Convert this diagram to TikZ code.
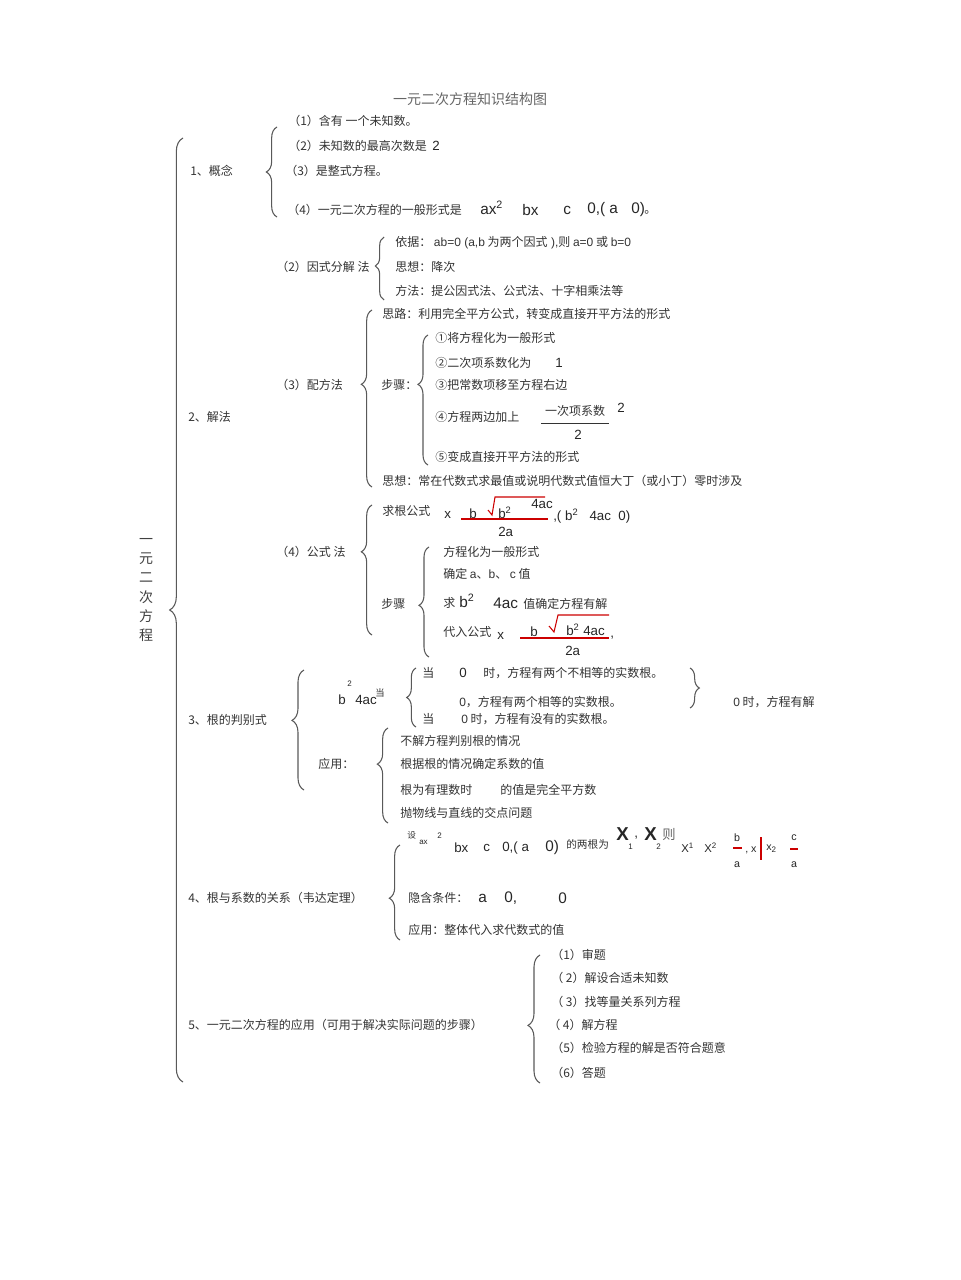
\documentclass[tikz,border=0pt]{standalone}
\usepackage{fontspec}
\setmainfont{Noto Sans CJK SC}
\newfontfamily\arial{Liberation Sans}
\usetikzlibrary{decorations.pathreplacing}

\tikzset{
  txt/.style={anchor=west, inner sep=0pt, text=black!80, font=\fontsize{9}{10}\selectfont},
  fml/.style={anchor=west, inner sep=0pt, text=black!85, font=\arial\fontsize{10}{11}\selectfont},
  big fml/.style={fml, font=\arial\fontsize{11.5}{12}\selectfont},
  tiny fml/.style={fml, font=\arial\fontsize{6}{7}\selectfont},
  brc/.style={decorate, draw=black!65, line width=0.8pt, decoration={brace, amplitude=#1}},
  brc/.default=7pt,
  red rule/.style={draw=red!80!black, line width=0.8pt},
}

\begin{document}
\begin{tikzpicture}[x=0.75pt, y=-0.75pt]
\useasboundingbox (0,0) rectangle (960,1280);

% title and root
\node[text=black!60, font=\fontsize{10.5}{12}\selectfont] (title) at (470,99) {一元二次方程知识结构图};
\node[align=center, text=black!75, font=\fontsize{10.5}{14.5}\selectfont] (root) at (146,590) {一\\元\\二\\次\\方\\程};
\draw[brc=10pt] (183,1082) -- (183,138);

% 1 concept
\node[txt] (gn) at (190,171) {1、概念};
\draw[brc=8pt] (277,217) -- (277,127);
\node[txt] (c1) at (288,121) {（1）含有 一个未知数。};
\node[txt] (c2) at (288,146) {（2）未知数的最高次数是};
\node[fml] (c2n) at (432,146) {2};
\node[txt] (c3) at (285,171) {（3）是整式方程。};
\node[txt] (c4) at (287,210) {（4）一元二次方程的一般形式是};
\node[big fml] (gf1) at (480,208) {ax\textsuperscript{2}};
\node[big fml] (gf2) at (522,210) {bx};
\node[big fml] (gf3) at (563,210) {c};
\node[big fml] (gf4) at (587,210) {0,( a};
\node[big fml] (gf5) at (631,210) {0)};
\node[txt] (gf6) at (644,212) {。};

% 2 solving
\node[txt] (jf) at (188,417) {2、解法};

% factoring
\node[txt] (yf) at (276,267) {（2）因式分解 法};
\draw[brc=6.5pt, decoration={aspect=0.54}] (384,300) -- (384,237);
\node[txt] (y1) at (395,243) {依据：\ {\arial ab=0 (a,b}\ 为两个因式{\arial\ ),}则 {\arial a=0} 或 {\arial b=0}};
\node[txt] (y2) at (395,267) {思想：降次};
\node[txt] (y3) at (395,291) {方法：提公因式法、公式法、十字相乘法等};

% completing the square
\node[txt] (pf) at (276,385) {（3）配方法};
\draw[brc=8pt, decoration={aspect=0.58}] (372,487) -- (372,310);
\node[txt] (p0) at (382,314) {思路：利用完全平方公式，转变成直接开平方法的形式};
\node[txt] (pb) at (381,385) {步骤：};
\draw[brc=7.5pt, decoration={aspect=0.62}] (428,465) -- (428,335);
\node[txt] (p1) at (435,338) {①将方程化为一般形式};
\node[txt] (p2) at (435,363) {②二次项系数化为};
\node[fml] (p2n) at (555,363) {1};
\node[txt] (p3) at (435,385) {③把常数项移至方程右边};
\node[txt] (p4) at (435,417) {④方程两边加上};
\node[txt, anchor=center] (p4n) at (575,411) {一次项系数};
\draw[black!80, line width=0.6pt] (541,423) -- (609,423);
\node[fml, anchor=center] (p4d) at (578,435) {2};
\node[fml] (p4e) at (617,408) {2};
\node[txt] (p5) at (435,457) {⑤变成直接开平方法的形式};
\node[txt] (p6) at (382,481) {思想：常在代数式求最值或说明代数式值恒大丁（或小丁）零时涉及};

% quadratic formula
\node[txt] (qf) at (276,552) {（4）公式 法};
\draw[brc=8pt, decoration={aspect=0.64}] (372,635) -- (372,505);
\node[txt] (q0) at (382,511) {求根公式};
\node[fml] (qx) at (444,515) {x};
\node[fml] (qb) at (469,514) {b};
\draw[red rule] (488,510) -- (492,515) -- (495,497) -- (545,497);
\node[fml] (qr) at (498,513) {b\textsuperscript{2}};
\node[fml] (qc) at (531,504) {4ac};
\draw[red rule] (461,519) -- (548,519);
\node[fml] (qd) at (498,532) {2a};
\node[fml] (qe) at (553,516) {,( b\textsuperscript{2}\ \ \ 4ac\ \ 0)};
\node[txt] (sb) at (381,604) {步骤};
\draw[brc=7.5pt, decoration={aspect=0.47}] (429,657) -- (429,547);
\node[txt] (s1) at (443,552) {方程化为一般形式};
\node[txt] (s2) at (443,574) {确定 {\arial a}、{\arial b}、 {\arial c} 值};
\node[txt] (s3) at (443,603) {求};
\node[big fml] (s3b) at (459,601) {b\textsuperscript{2}};
\node[big fml] (s3c) at (493,603) {4ac};
\node[txt] (s3d) at (523,604) {值确定方程有解};
\node[txt] (s4) at (443,632) {代入公式};
\node[fml] (sx) at (497,636) {x};
\node[fml] (sbb) at (530,632) {b};
\draw[red rule] (549,626) -- (554,632) -- (558,615) -- (609,615);
\node[fml] (sr) at (566,630) {b\textsuperscript{2}\ 4ac};
\draw[red rule] (520,638) -- (609,638);
\node[fml] (sc) at (610,638) {,};
\node[fml] (sd) at (565,651) {2a};

% 3 discriminant
\node[txt] (df) at (188,720) {3、根的判别式};
\draw[brc=9pt, decoration={aspect=0.58}] (304,790) -- (304,670);
\node[fml] (d0) at (338,700) {b};
\node[tiny fml] (d0s) at (347,684) {2};
\node[fml] (d0c) at (355,700) {4ac};
\node[txt, font=\fontsize{7}{8}\selectfont] (d0d) at (375,693) {当};
\draw[brc=7pt] (416,727) -- (416,668);
\node[txt] (d1) at (422,673) {当};
\node[fml] (d1n) at (459,673) {0};
\node[txt] (d1t) at (483,673) {时，方程有两个不相等的实数根。};
\node[txt] (d2) at (459,702) {{\arial 0}，方程有两个相等的实数根。};
\node[txt] (d3) at (422,719) {当};
\node[txt] (d3t) at (461,719) {{\arial 0} 时，方程有没有的实数根。};
\draw[brc=7pt] (690,668) -- (690,708);
\node[txt] (d4) at (733,702) {{\arial 0} 时，方程有解};
\node[txt] (da) at (318,764) {应用：};
\draw[brc=8pt, decoration={aspect=0.62}] (388,823) -- (388,728);
\node[txt] (e1) at (400,741) {不解方程判别根的情况};
\node[txt] (e2) at (400,764) {根据根的情况确定系数的值};
\node[txt] (e3) at (400,790) {根为有理数时};
\node[txt] (e3b) at (500,790) {的值是完全平方数};
\node[txt] (e4) at (400,813) {抛物线与直线的交点问题};

% 4 Vieta
\node[txt] (vf) at (188,898) {4、根与系数的关系（韦达定理）};
\draw[brc=8pt, decoration={aspect=0.44}] (400,940) -- (400,845);
\node[txt, font=\fontsize{6.5}{7}\selectfont] (v0) at (407,835) {设};
\node[tiny fml] (v0a) at (419,842) {ax};
\node[tiny fml] (v0s) at (437,836) {2};
\node[fml] (v0b) at (454,848) {bx};
\node[fml] (v0c) at (483,848) {c};
\node[fml] (v0d) at (502,848) {0,( a};
\node[big fml] (v0e) at (545,848) {0)};
\node[txt, font=\fontsize{8}{9}\selectfont] (v0f) at (566,844) {的两根为};
\node[fml, font=\arial\bfseries\fontsize{14}{15}\selectfont] (vx1) at (616,834) {X};
\node[tiny fml] (vx1s) at (628,847) {1};
\node[fml] (vcm) at (634,838) {,};
\node[fml, font=\arial\bfseries\fontsize{14}{15}\selectfont] (vx2) at (644,834) {X};
\node[tiny fml] (vx2s) at (656,847) {2};
\node[txt, text=black!60, font=\fontsize{10}{11}\selectfont] (vz) at (662,834) {则};
\node[fml, font=\arial\fontsize{8.5}{9}\selectfont] (vs1) at (681,848) {X\textsuperscript{1}};
\node[fml, font=\arial\fontsize{8.5}{9}\selectfont] (vs2) at (704,848) {X\textsuperscript{2}};
\node[fml, font=\arial\fontsize{8}{9}\selectfont, anchor=center] (vb) at (737,838) {b};
\draw[red rule] (733,848) -- (742,848);
\node[fml, font=\arial\fontsize{8}{9}\selectfont, anchor=center] (va) at (737,865) {a};
\node[fml, font=\arial\fontsize{8}{9}\selectfont] (vp) at (745,850) {, x};
\draw[red rule, line width=2pt] (761,837) -- (761,860);
\node[fml, font=\arial\fontsize{8}{9}\selectfont] (vp2) at (766,849) {x\textsubscript{2}};
\node[fml, font=\arial\fontsize{8}{9}\selectfont, anchor=center] (vc) at (794,838) {c};
\draw[red rule] (790,849) -- (798,849);
\node[fml, font=\arial\fontsize{8}{9}\selectfont, anchor=center] (va2) at (794,865) {a};
\node[txt] (v2) at (408,898) {隐含条件：};
\node[big fml] (v2a) at (478,898) {a};
\node[big fml] (v2b) at (504,898) {0,};
\node[big fml] (v2c) at (558,898) {0};
\node[txt] (v3) at (408,930) {应用：整体代入求代数式的值};

% 5 application
\node[txt] (af) at (188,1025) {5、一元二次方程的应用（可用于解决实际问题的步骤）};
\draw[brc=9pt, decoration={aspect=0.45}] (540,1083) -- (540,955);
\node[txt] (a1) at (551,955) {（1）审题};
\node[txt] (a2) at (551,978) {（ 2）解设合适未知数};
\node[txt] (a3) at (551,1002) {（ 3）找等量关系列方程};
\node[txt] (a4) at (548,1025) {（ 4）解方程};
\node[txt] (a5) at (551,1048) {（5）检验方程的解是否符合题意};
\node[txt] (a6) at (551,1073) {（6）答题};
\end{tikzpicture}
\end{document}
